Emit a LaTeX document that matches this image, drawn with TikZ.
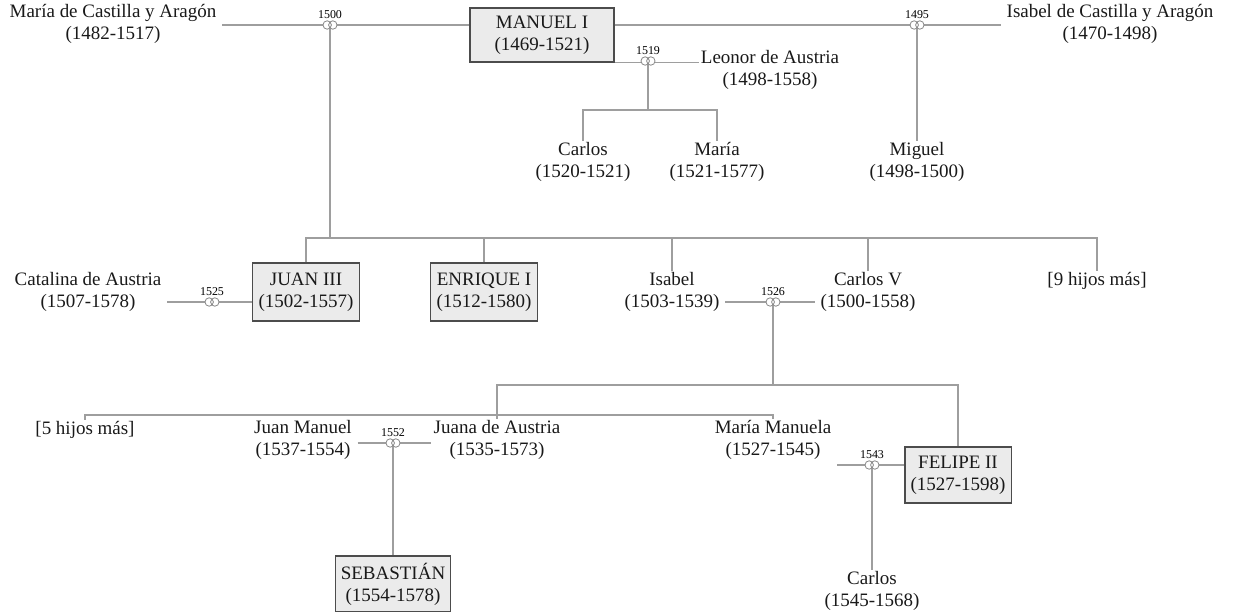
\documentclass[tikz,border=0pt]{standalone}
\usepackage{fontspec}
\setmainfont{Liberation Serif}
\usetikzlibrary{calc}

\begin{document}
\begin{tikzpicture}[x=0.025cm,y=-0.025cm,
    person/.style={align=center,font=\fontsize{13.5}{15.6}\selectfont,inner xsep=4pt,inner ysep=1pt,text=black!90},
    king/.style={person,draw=black!70,line width=0.8pt,fill=black!8,inner xsep=4pt,minimum height=1.45cm},
    link/.style={draw=black!38,line width=0.9pt},
    year/.style={font=\fontsize{8.5}{9}\selectfont,inner sep=0pt}]
	  \useasboundingbox (0,0) rectangle (1234,611);
	  % First generation
	  \node[person] (mdc) at (113,24) {María de Castilla y Aragón\\(1482-1517)};
	  \node[king,minimum width=3.6cm,minimum height=1.35cm] (manuel) at (542,35) {MANUEL I\\(1469-1521)};
	  \node[person] (idc) at (1110,24) {Isabel de Castilla y Aragón\\(1470-1498)};
	  \node[person,inner xsep=1pt] (leonor) at (770,70) {Leonor de Austria\\(1498-1558)};
	  \node[person] (carlosA) at (583,162) {Carlos\\(1520-1521)};
	  \node[person] (mariaA) at (717,162) {María\\(1521-1577)};
	  \node[person] (miguel) at (917,162) {Miguel\\(1498-1500)};
	  % Second generation
	  \node[person] (catalina) at (88,292) {Catalina de Austria\\(1507-1578)};
	  \node[king] (juan) at (306,292) {JUAN III\\(1502-1557)};
	  \node[king] (enrique) at (484,292) {ENRIQUE I\\(1512-1580)};
	  \node[person] (isabel) at (672,292) {Isabel\\(1503-1539)};
	  \node[person] (carlosV) at (868,292) {Carlos V\\(1500-1558)};
	  \node[person] (nueve) at (1097,281) {[9 hijos más]};
	  % Third generation
	  \node[person] (cinco) at (85,430) {[5 hijos más]};
	  \node[person] (juanM) at (303,440) {Juan Manuel\\(1537-1554)};
	  \node[person,inner xsep=2pt] (juana) at (497,440) {Juana de Austria\\(1535-1573)};
	  \node[person] (mariaM) at (773,440) {María Manuela\\(1527-1545)};
	  \node[king,minimum height=1.4cm] (felipe) at (958,475) {FELIPE II\\(1527-1598)};
	  \node[king,minimum height=1.4cm] (sebastian) at (393,584) {SEBASTIÁN\\(1554-1578)};
	  \node[person] (carlosB) at (872,591) {Carlos\\(1545-1568)};
	  % Marriage points
	  \coordinate (w1500) at (330,25);
	  \coordinate (w1495) at (917,25);
	  \coordinate (w1519) at (648,61);
	  \coordinate (w1525) at (212,302);
	  \coordinate (w1526) at (773,302);
	  \coordinate (w1552) at (393,443);
	  \coordinate (w1543) at (872,465);
	  % Child bars
	  \coordinate (c1519) at (648,110);
	  \coordinate (c1500) at (330,238);
	  \coordinate (c1526) at (773,385);
	  \coordinate (c1526b) at (773,415);
	  % Marriage lines
	  \draw[link] (mdc.east |- w1500) -- (manuel.west |- w1500);
	  \draw[link] (manuel.east |- w1495) -- (idc.west |- w1495);
	  \draw[link] (manuel.south east) -- (leonor.west |- manuel.south east);
	  \draw[link] (catalina.east |- w1525) -- (juan.west |- w1525);
	  \draw[link] (isabel.east |- w1526) -- (carlosV.west |- w1526);
	  \draw[link] (juanM.east |- w1552) -- (juana.west |- w1552);
	  \draw[link] (mariaM.east |- w1543) -- (felipe.west |- w1543);
	  % Descent lines
	  \draw[link] (w1519) -- (c1519);
	  \draw[link] (carlosA.north) |- (c1519) -| (mariaA.north);
	  \draw[link] (w1495) -- (miguel.north);
	  \draw[link] (w1500) -- (c1500);
	  \draw[link] (juan.north) |- (c1500) -| (nueve.north);
	  \foreach \c in {enrique,isabel,carlosV}
	    \draw[link] (\c.north) -- (\c.north |- c1500);
	  \draw[link] (w1526) -- (c1526);
	  \draw[link] (juana.north) |- (c1526) -| (felipe.north);
	  \draw[link] (cinco.north) |- (c1526b) -- (mariaM.north);
	  \draw[link] (w1552) -- (sebastian.north);
	  \draw[link] (w1543) -- (carlosB.north);
	  % Wedding rings and years
	  \foreach \w/\yr in {w1500/1500,w1495/1495,w1519/1519,w1525/1525,w1526/1526,w1552/1552,w1543/1543} {
	    \fill[white] ([xshift=-2pt]\w) circle (3pt) ([xshift=2pt]\w) circle (3pt);
	    \draw[black!45,line width=0.6pt] ([xshift=-2pt]\w) circle (3pt) ([xshift=2pt]\w) circle (3pt);
	    \node[year,above=4.5pt] (y\yr) at (\w) {\yr};
	  }
\end{tikzpicture}
\end{document}
